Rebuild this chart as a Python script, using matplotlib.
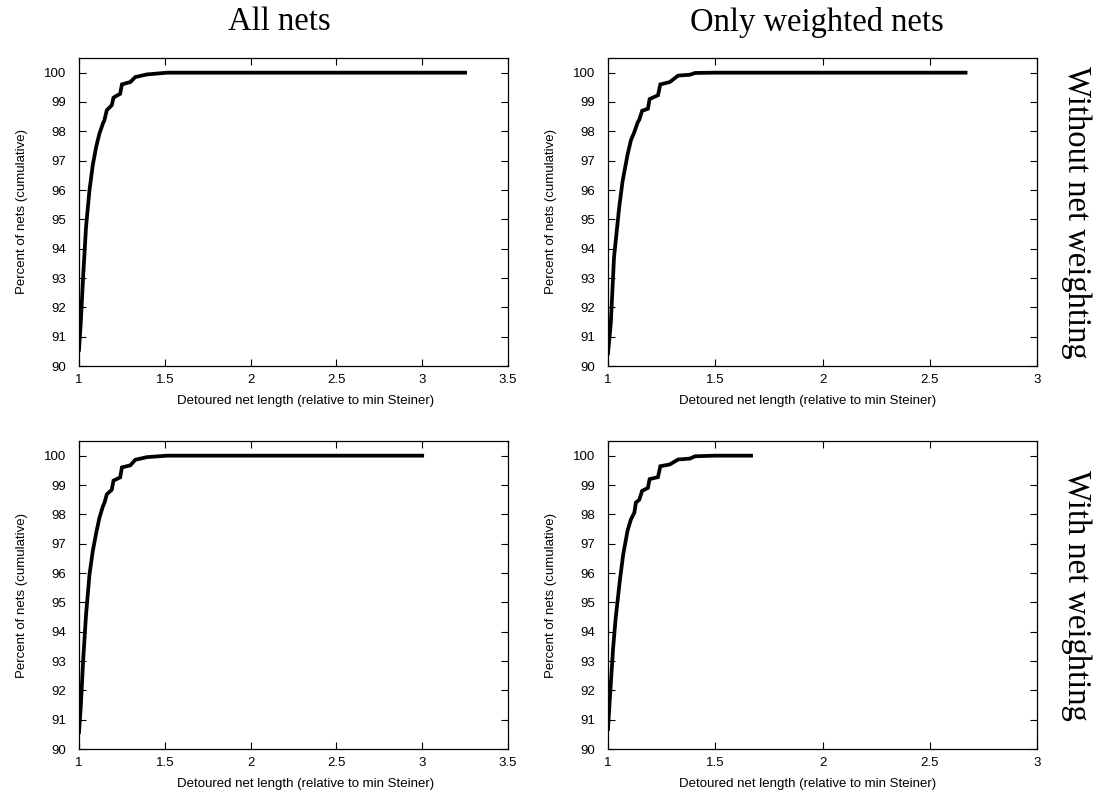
"""
Cumulative distribution of detoured net length, 2x2 grid (gnuplot-like style)
"""
import matplotlib
matplotlib.use("Agg")
import matplotlib.pyplot as plt

# top-left: all nets, without net weighting
x_all_nowt = [1.000, 1.010, 1.025, 1.041, 1.061, 1.080, 1.100, 1.119, 1.139, 1.148,
              1.162, 1.191, 1.201, 1.240, 1.250, 1.299, 1.328, 1.396, 1.514, 3.25]
y_all_nowt = [90.55, 91.45, 93.15, 94.74, 95.99, 96.84, 97.47, 97.92, 98.26, 98.38,
              98.72, 98.89, 99.15, 99.28, 99.60, 99.68, 99.85, 99.94, 100.0, 100.0]

# top-right: only weighted nets, without net weighting
x_wtd_nowt = [1.000, 1.013, 1.028, 1.052, 1.068, 1.091, 1.107, 1.123, 1.138, 1.146,
              1.159, 1.186, 1.194, 1.233, 1.244, 1.288, 1.327, 1.382, 1.406, 1.500, 2.667]
y_wtd_nowt = [90.43, 91.45, 93.70, 95.40, 96.30, 97.20, 97.70, 97.98, 98.30, 98.40,
              98.70, 98.77, 99.10, 99.23, 99.60, 99.68, 99.90, 99.93, 99.99, 100.0, 100.0]

# bottom-left: all nets, with net weighting
x_all_wt = [1.000, 1.010, 1.025, 1.041, 1.061, 1.080, 1.100, 1.119, 1.139, 1.148,
            1.162, 1.191, 1.201, 1.240, 1.250, 1.299, 1.328, 1.396, 1.514, 3.00]
y_all_wt = [90.57, 91.42, 93.10, 94.58, 95.94, 96.74, 97.36, 97.88, 98.27, 98.39,
            98.68, 98.84, 99.15, 99.26, 99.60, 99.67, 99.86, 99.95, 100.0, 100.0]

# bottom-right: only weighted nets, with net weighting
x_wtd_wt = [1.000, 1.008, 1.024, 1.036, 1.055, 1.071, 1.091, 1.107, 1.123, 1.130, 1.146,
            1.159, 1.186, 1.194, 1.233, 1.244, 1.288, 1.327, 1.382, 1.406, 1.500, 1.667]
y_wtd_wt = [90.68, 91.65, 93.46, 94.48, 95.73, 96.64, 97.44, 97.83, 98.06, 98.40, 98.50,
            98.80, 98.90, 99.20, 99.27, 99.64, 99.70, 99.87, 99.90, 99.98, 100.0, 100.0]

col_titles = ["All nets", "Only weighted nets"]
row_titles = ["Without net weighting", "With net weighting"]
xlabel = "Detoured net length (relative to min Steiner)"
ylabel = "Percent of nets (cumulative)"
xmax = [3.5, 3.0]

plt.rcParams["font.family"] = ["Liberation Sans", "DejaVu Sans"]
fig = plt.figure(figsize=(10.98, 7.96), dpi=100)

W, H = 1098, 796
lefts = [79, 608]
tops = [58, 441]
aw, ah = 429, 308
title_x = [279, 817]
xlabel_x = [306, 808]   # gnuplot put the x label a bit off the axes centre

series = [[(x_all_nowt, y_all_nowt), (x_wtd_nowt, y_wtd_nowt)],
          [(x_all_wt, y_all_wt), (x_wtd_wt, y_wtd_wt)]]

for r in range(2):
    for c in range(2):
        ax = fig.add_axes([lefts[c] / W, 1 - (tops[r] + ah) / H, aw / W, ah / H])
        xs, ys = series[r][c]
        ax.plot(xs, ys, color="black", lw=2.7, solid_joinstyle="miter")
        ax.set_xlim(1, xmax[c])
        ax.set_ylim(90, 100.5)
        ax.set_yticks(range(90, 101))
        ticks = [1, 1.5, 2, 2.5, 3, 3.5] if xmax[c] == 3.5 else [1, 1.5, 2, 2.5, 3]
        ax.set_xticks(ticks)
        ax.set_xticklabels([f"{t:g}" for t in ticks])
        ax.tick_params(direction="in", top=True, right=True, length=5, width=0.8,
                       labelsize=9.5)
        ax.tick_params(axis="x", pad=6)
        ax.tick_params(axis="y", pad=9)
        for s in ax.spines.values():
            s.set_linewidth(0.9)
        ax.set_xlabel(xlabel, fontsize=9.5)
        ax.xaxis.set_label_coords((xlabel_x[c] - lefts[c]) / aw, -0.095)
        ax.set_ylabel(ylabel, fontsize=9.5, labelpad=12)

for c in range(2):
    fig.text(title_x[c] / W, 1 - 22 / H, col_titles[c], ha="center", va="center",
             fontsize=23.5, family=["Liberation Serif", "DejaVu Serif"])
for r in range(2):
    fig.text(1076 / W, 1 - (tops[r] + ah / 2) / H, row_titles[r], ha="center", va="center",
             rotation=-90, fontsize=23.5, family=["Liberation Serif", "DejaVu Serif"])

fig.savefig("out.png", dpi=100)
